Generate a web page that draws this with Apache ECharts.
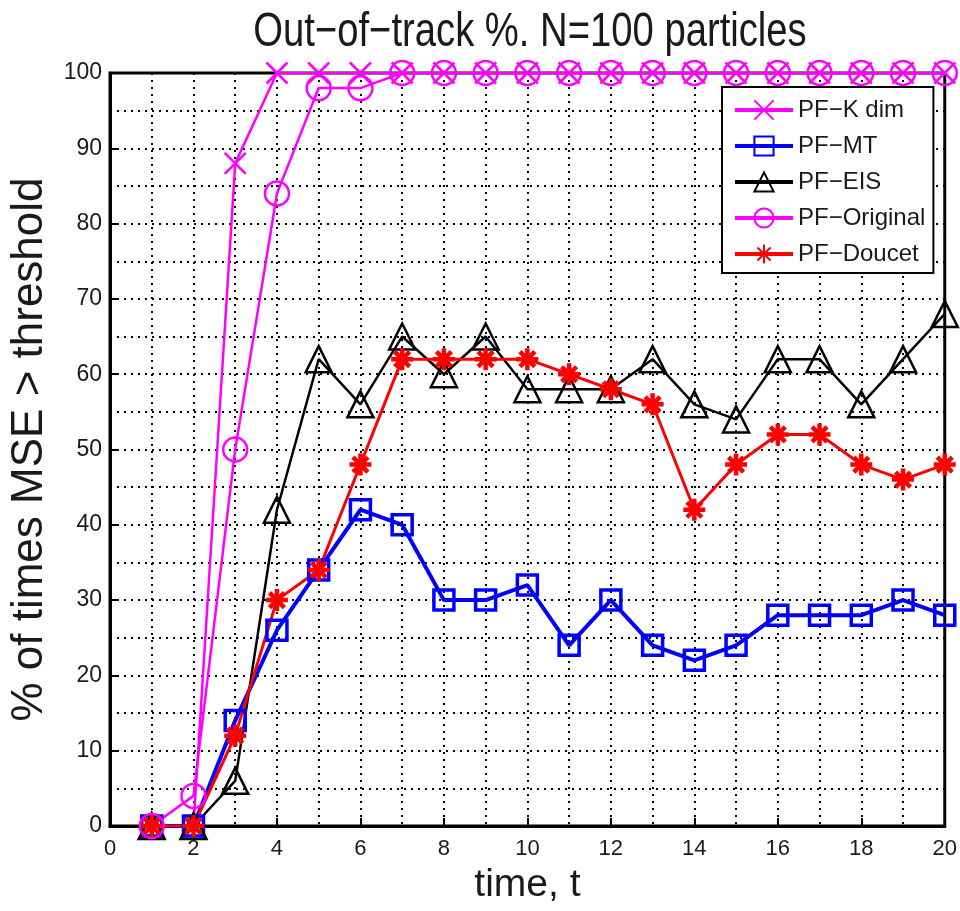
<!DOCTYPE html>
<html>
<head>
<meta charset="utf-8">
<script src="https://cdn.jsdelivr.net/npm/echarts@6/dist/echarts.min.js"></script>
<style>html,body{margin:0;padding:0;background:#fff}#c{width:960px;height:911px}</style>
</head>
<body>
<div id="c"></div>
<script>
const t = [1,2,3,4,5,6,7,8,9,10,11,12,13,14,15,16,17,18,19,20];
const pfKdim    = [0,0,88,100,100,100,100,100,100,100,100,100,100,100,100,100,100,100,100,100];
const pfMT      = [0,0,14,26,34,42,40,30,30,32,24,30,24,22,24,28,28,28,30,28];
const pfEIS     = [0,0,6,42,62,56,65,60,65,58,58,58,62,56,54,62,62,56,62,68];
const pfOriginal= [0,4,50,84,98,98,100,100,100,100,100,100,100,100,100,100,100,100,100,100];
const pfDoucet  = [0,0,12,30,34,48,62,62,62,62,60,58,56,42,48,52,52,48,46,48];
const xTicks = [0,2,4,6,8,10,12,14,16,18,20];
const yTicks = [0,10,20,30,40,50,60,70,80,90,100];
const titleText = 'Out\u2212of\u2212track %. N=100 particles';

const FONT = 'Liberation Sans, Arial, sans-serif';

const pts = arr => arr.map((v,i)=>[t[i], v]);
const xPath = 'path://M0,0L10,10M10,0L0,10';
const starPath = 'path://M5,0L5,10M0,5L10,5M1.6,1.6L8.4,8.4M8.4,1.6L1.6,8.4';

function mk(name, data, color, symbol, size, lw, bw) {
  return {
    name, type:'line', data: pts(data), symbol, symbolSize: size,
    lineStyle:{color, width: lw},
    itemStyle:{color: 'rgba(255,255,255,0)', borderColor: color, borderWidth: bw},
    emphasis:{disabled:true}, animation:false, z: 3
  };
}

const chart = echarts.init(document.getElementById('c'), null, {renderer:'canvas'});
const gridLine = {show:true, lineStyle:{color:'#000', type:[2,5], width:2}};
chart.setOption({
  backgroundColor:'#fff',
  animation:false,
  graphic:[{
    type:'text', x:530, y:32, scaleX:0.78, scaleY:1, silent:true,
    style:{text:titleText, x:0, y:0, align:'center', verticalAlign:'middle',
      font:'normal 49px Liberation Sans, Arial, sans-serif', fill:'#1a1a1a'}
  }],
  grid:{left:108, right:12, top:73, bottom:85, show:true, borderColor:'#000', borderWidth:3, containLabel:false},
  legend:{
    orient:'vertical', left:722, top:87,
    backgroundColor:'#fff', borderColor:'#000', borderWidth:2,
    padding:[11,8,7,11], itemWidth:58, itemHeight:24, itemGap:12,
    lineStyle:{width:4},
    textStyle:{fontFamily:FONT, fontSize:24, color:'#1a1a1a'},
    data:['PF\u2212K dim','PF\u2212MT','PF\u2212EIS','PF\u2212Original','PF\u2212Doucet']
  },
  xAxis:{
    type:'value', min:xTicks[0], max:xTicks[xTicks.length-1], interval:2,
    name:'time, t', nameLocation:'middle', nameGap:40,
    nameTextStyle:{fontFamily:FONT, fontSize:39, color:'#1a1a1a'},
    axisLine:{show:true, lineStyle:{color:'#000', width:3}},
    axisTick:{show:true, inside:true, length:8, lineStyle:{color:'#000', width:2}},
    axisLabel:{fontFamily:FONT, fontSize:22, color:'#1a1a1a', margin:12},
    splitLine: gridLine,
    minorTick:{show:false, splitNumber:2},
    minorSplitLine: gridLine
  },
  yAxis:{
    type:'value', min:yTicks[0], max:yTicks[yTicks.length-1], interval:10,
    name:'% of times MSE > threshold', nameLocation:'middle', nameGap:58,
    nameTextStyle:{fontFamily:FONT, fontSize:44, color:'#1a1a1a'},
    axisLine:{show:true, lineStyle:{color:'#000', width:3}},
    axisTick:{show:true, inside:true, length:8, lineStyle:{color:'#000', width:2}},
    axisLabel:{fontFamily:FONT, fontSize:23, color:'#1a1a1a', margin:8},
    splitLine: gridLine,
    minorTick:{show:false, splitNumber:2},
    minorSplitLine: gridLine
  },
  series:[
    mk('PF\u2212K dim', pfKdim, '#ff00ff', xPath, 21, 2.5, 2.5),
    mk('PF\u2212MT', pfMT, '#0000ff', 'rect', 20, 4, 3.5),
    mk('PF\u2212EIS', pfEIS, '#000000', 'triangle', 26, 2.5, 2.5),
    mk('PF\u2212Original', pfOriginal, '#ff00ff', 'circle', 24, 2.5, 2.5),
    mk('PF\u2212Doucet', pfDoucet, '#ff0000', starPath, 22, 3, 4.5)
  ]
});
</script>
</body>
</html>
